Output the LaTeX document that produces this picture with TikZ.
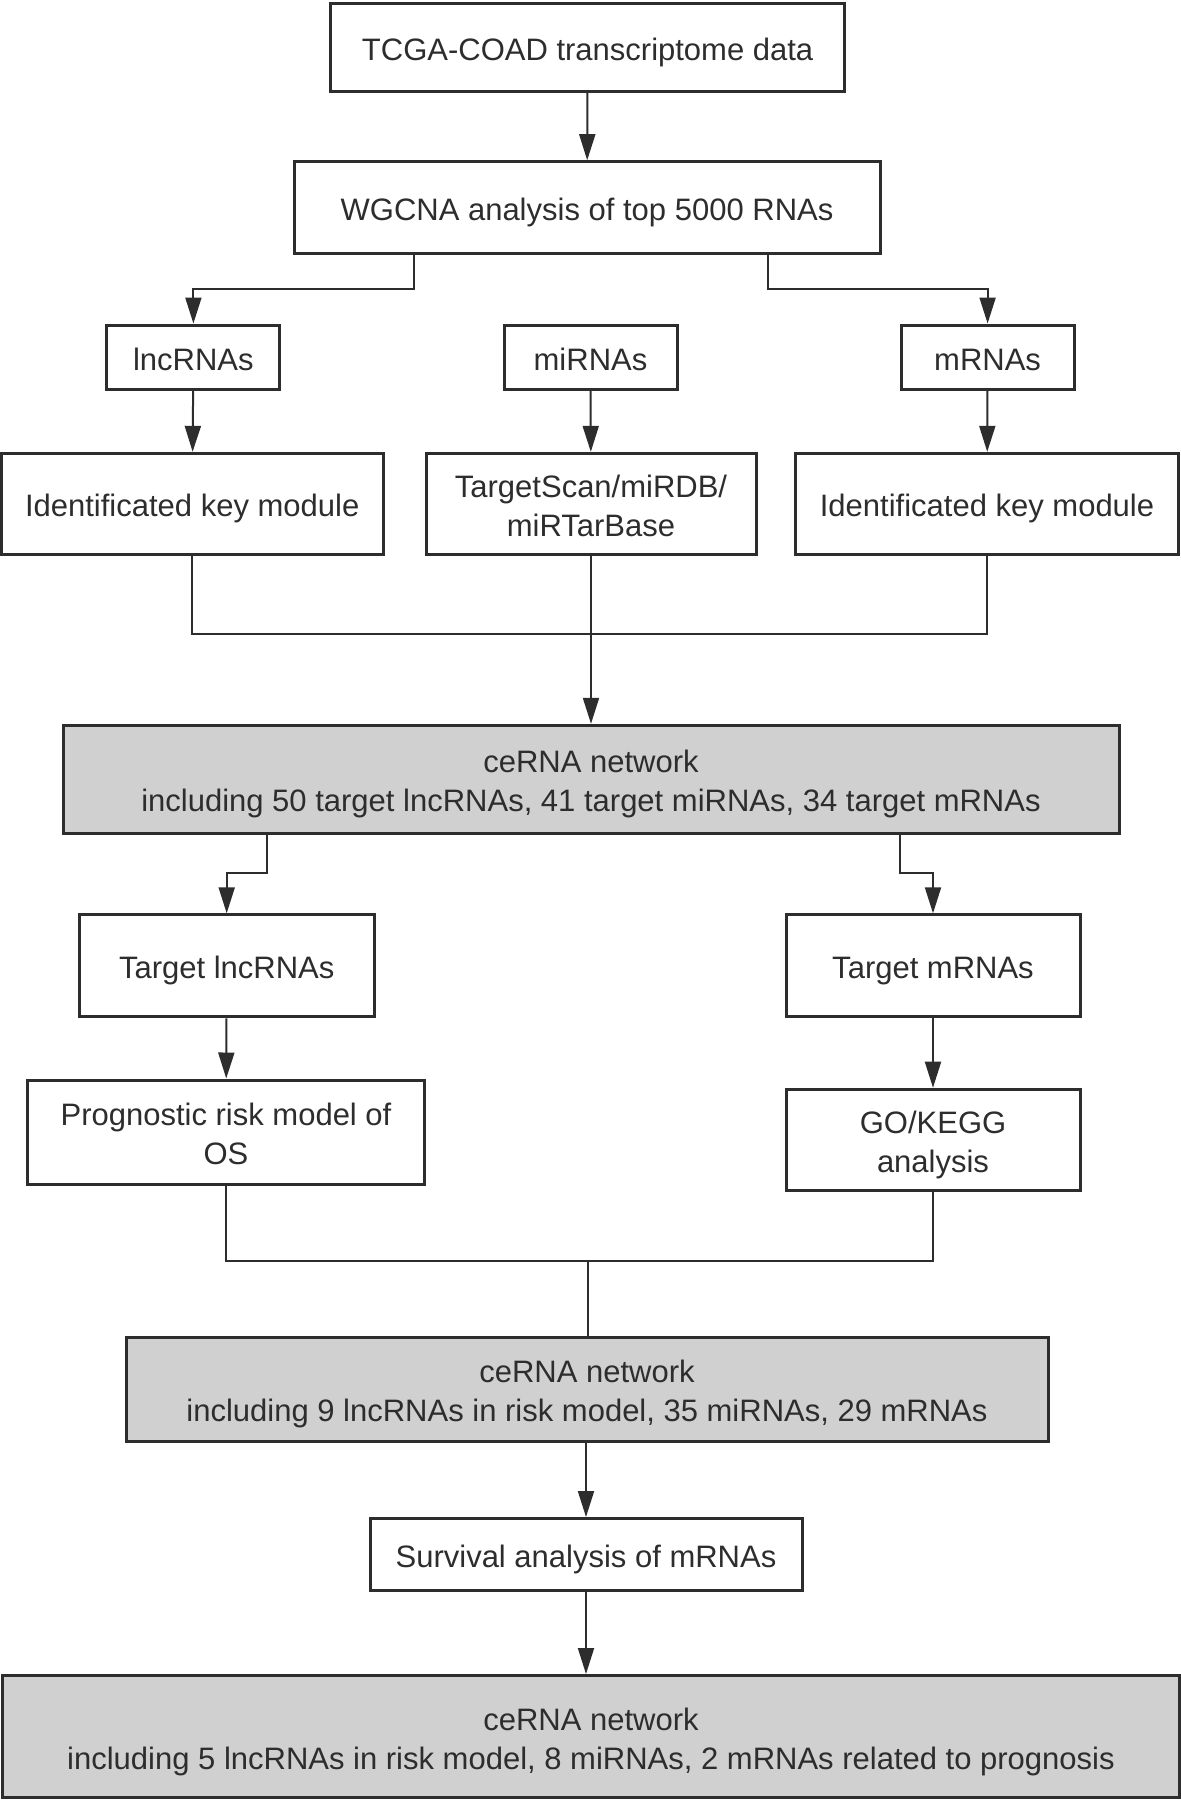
\documentclass[tikz,border=0pt]{standalone}
\usepackage{fontspec}
\setmainfont{Liberation Sans}
\usetikzlibrary{arrows.meta}
\definecolor{boxgray}{RGB}{208,208,208}
\definecolor{ink}{RGB}{45,45,45}
% box text, set a little below the middle of its box
\newcommand{\lbl}[1]{\raisebox{-2.6pt}[\height][\depth]{\begin{tabular}{@{}c@{}}#1\end{tabular}}}
\begin{document}
\begin{tikzpicture}
        [x=0.5pt, y=-0.5pt,
        box/.style={draw=ink, line width=1.5pt, text=ink, inner sep=0pt,
            font=\fontsize{15.5}{19.5}\selectfont},
        net/.style={box, fill=boxgray},
        edge/.style={ink, line width=1pt},
        arrow/.style={edge, -{Triangle[length=13pt, width=8pt]}}]

        \useasboundingbox (0,0) rectangle (1181,1800);

        \node[box, minimum width=257pt, minimum height=44pt] (tcga) at (587.6,47.6) {\lbl{TCGA-COAD transcriptome data}};
        \node[box, minimum width=293pt, minimum height=46pt] (wgcna) at (587,207.7) {\lbl{WGCNA analysis of top 5000 RNAs}};

        \node[box, minimum width=86.5pt, minimum height=32pt] (lnc) at (193.4,357) {\lbl{lncRNAs}};
        \node[box, minimum width=86.5pt, minimum height=32pt] (mir) at (590.5,357) {\lbl{miRNAs}};
        \node[box, minimum width=86.5pt, minimum height=32pt] (mrna) at (987.6,357) {\lbl{mRNAs}};

        \node[box, minimum width=191pt, minimum height=50.5pt] (keyl) at (192.2,503.8) {\lbl{Identificated key module}};
        \node[box, minimum width=165pt, minimum height=50.5pt] (tscan) at (591,503.8) {\lbl{TargetScan/miRDB/\\miRTarBase}};
        \node[box, minimum width=191.5pt, minimum height=50.5pt] (keyr) at (987,503.8) {\lbl{Identificated key module}};

        \node[net, minimum width=528pt, minimum height=54pt] (net1) at (591,779.3) {\lbl{ceRNA network\\including 50 target lncRNAs, 41 target miRNAs, 34 target mRNAs}};

        \node[box, minimum width=147.5pt, minimum height=51pt] (tlnc) at (226.7,965.8) {\lbl{Target lncRNAs}};
        \node[box, minimum width=147pt, minimum height=51pt] (tmrna) at (933,965.8) {\lbl{Target mRNAs}};
        \node[box, minimum width=198.5pt, minimum height=52pt] (risk) at (226,1132) {\lbl{Prognostic risk model of\\OS}};
        \node[box, minimum width=147pt, minimum height=50.5pt] (gokegg) at (933,1139.7) {\lbl{GO/KEGG\\analysis}};

        \node[net, minimum width=461pt, minimum height=52pt] (net2) at (587,1389.3) {\lbl{ceRNA network\\including 9 lncRNAs in risk model, 35 miRNAs, 29 mRNAs}};
        \node[box, minimum width=216pt, minimum height=36pt] (surv) at (586,1554.5) {\lbl{Survival analysis of mRNAs}};
        \node[net, minimum width=588.5pt, minimum height=61pt] (net3) at (591,1736.5) {\lbl{ceRNA network\\including 5 lncRNAs in risk model, 8 miRNAs, 2 mRNAs related to prognosis}};

        % bend points
        \coordinate (wl) at (414.3,289.2);
        \coordinate (wr) at (767.8,289.2);
        \coordinate (mrg) at (591,633.5);
        \coordinate (nl) at (267.4,873);
        \coordinate (nr) at (899.8,873);
        \coordinate (mrg2) at (587.6,1261.3);

        % top part
        \draw[arrow] (tcga) -- (wgcna);
        \draw[arrow] (wgcna.south -| wl) -- (wl) -| (lnc.north);
        \draw[arrow] (wgcna.south -| wr) -- (wr) -| (mrna.north);
        \draw[arrow] (lnc) -- (keyl);
        \draw[arrow] (mir) -- (tscan);
        \draw[arrow] (mrna) -- (keyr);

        % merge into first network
        \draw[edge] (keyl.south) -- (keyl.south |- mrg) -- (keyr.south |- mrg) -- (keyr.south);
        \draw[arrow] (tscan.south) -- (net1.north);

        % split to targets
        \draw[arrow] (net1.south -| nl) -- (nl) -| (tlnc.north);
        \draw[arrow] (net1.south -| nr) -- (nr) -| (tmrna.north);
        \draw[arrow] (tlnc) -- (risk);
        \draw[arrow] (tmrna) -- (gokegg);

        % merge into second network
        \draw[edge] (risk.south) -- (risk.south |- mrg2) -- (gokegg.south |- mrg2) -- (gokegg.south);
        \draw[edge] (mrg2) -- (net2.north -| mrg2);

        \draw[arrow] (net2.south -| surv) -- (surv.north);
        \draw[arrow] (surv) -- (net3.north -| surv);

        \end{tikzpicture}
\end{document}
